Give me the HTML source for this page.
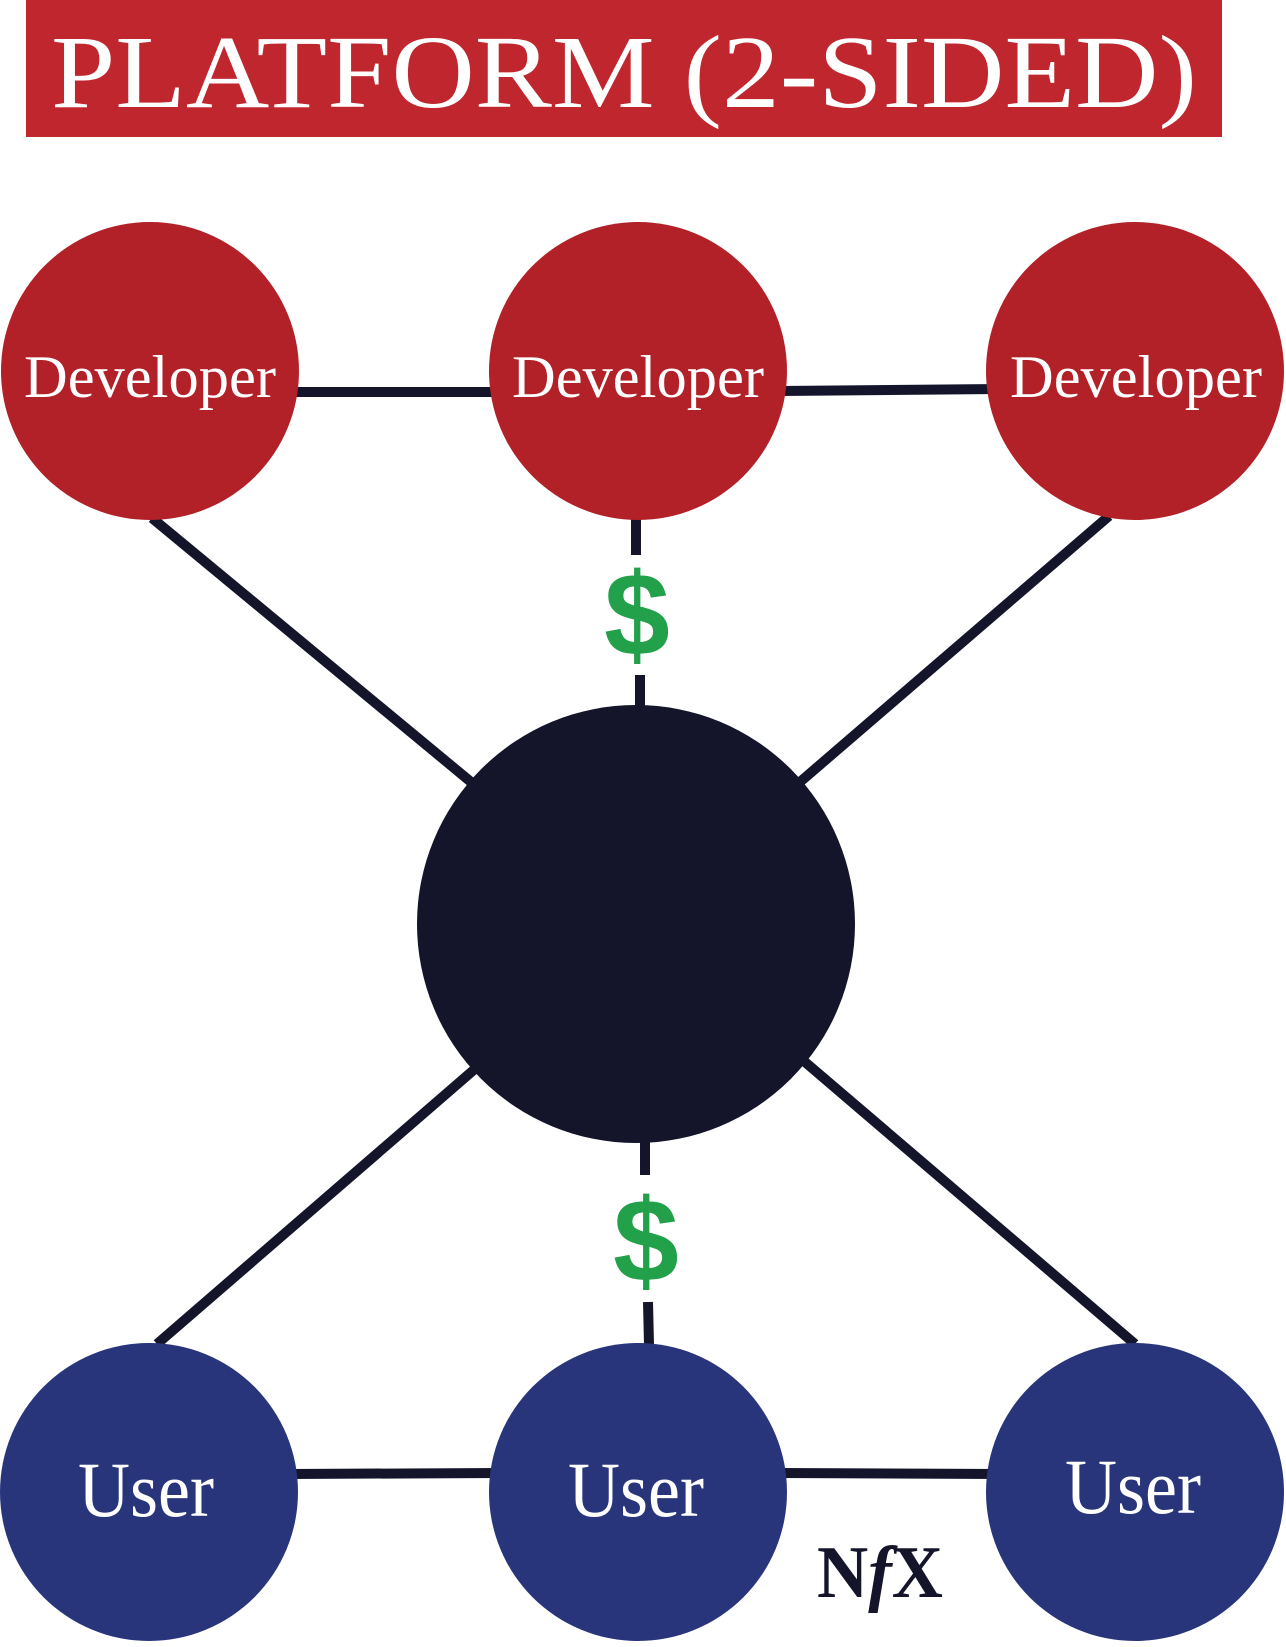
<!DOCTYPE html>
<html><head><style>
body{margin:0;background:#fff;width:1286px;height:1642px;overflow:hidden}
</style></head><body>
<svg width="1286" height="1642" viewBox="0 0 1286 1642" xmlns="http://www.w3.org/2000/svg">
<rect x="26" y="0" width="1196" height="137" fill="#c0262e"/>
<text x="624" y="107" text-anchor="middle" font-family="Liberation Serif, serif" font-size="104" fill="#fff" textLength="1146" lengthAdjust="spacingAndGlyphs">PLATFORM (2-SIDED)</text>
<g stroke="#14152a" stroke-width="10" fill="none">
<line x1="290" y1="392" x2="500" y2="392"/>
<line x1="780" y1="391" x2="1000" y2="389"/>
<line x1="290" y1="1474" x2="500" y2="1473"/>
<line x1="780" y1="1473" x2="1000" y2="1474"/>
<line x1="152" y1="518" x2="471" y2="782"/>
<line x1="1109" y1="516" x2="800" y2="782"/>
<line x1="476" y1="1068" x2="157" y2="1344"/>
<line x1="805" y1="1062" x2="1135" y2="1344"/>
<line x1="636" y1="515" x2="636" y2="555"/>
<line x1="640" y1="675" x2="640" y2="712"/>
<line x1="645" y1="1138" x2="645" y2="1175"/>
<line x1="648" y1="1302" x2="649" y2="1345"/>
</g>
<text x="637" y="655" text-anchor="middle" font-family="Liberation Sans, sans-serif" font-weight="bold" font-size="118" fill="#22a04a">$</text>
<text x="646" y="1281" text-anchor="middle" font-family="Liberation Sans, sans-serif" font-weight="bold" font-size="118" fill="#22a04a">$</text>
<circle cx="636" cy="924" r="219" fill="#14152a"/>
<g fill="#b22028">
<circle cx="150" cy="371" r="149"/><circle cx="638" cy="371" r="149"/><circle cx="1135" cy="371" r="149"/>
</g>
<g fill="#28357a">
<circle cx="149" cy="1492" r="149"/><circle cx="638" cy="1492" r="149"/><circle cx="1135" cy="1492" r="149"/>
</g>
<g font-family="Liberation Serif, serif" fill="#fff" text-anchor="middle">
<text x="150" y="397" font-size="60" textLength="252" lengthAdjust="spacingAndGlyphs">Developer</text>
<text x="638" y="397" font-size="60" textLength="252" lengthAdjust="spacingAndGlyphs">Developer</text>
<text x="1136" y="397" font-size="60" textLength="252" lengthAdjust="spacingAndGlyphs">Developer</text>
<text x="146" y="1516" font-size="78" textLength="136" lengthAdjust="spacingAndGlyphs">User</text>
<text x="636" y="1516" font-size="78" textLength="136" lengthAdjust="spacingAndGlyphs">User</text>
<text x="1133" y="1513" font-size="78" textLength="136" lengthAdjust="spacingAndGlyphs">User</text>
</g>
<text x="880" y="1597" text-anchor="middle" font-family="Liberation Serif, serif" font-weight="bold" font-size="74" fill="#14152a" textLength="126" lengthAdjust="spacingAndGlyphs">N<tspan font-style="italic">f</tspan>X</text>
</svg>
</body></html>
